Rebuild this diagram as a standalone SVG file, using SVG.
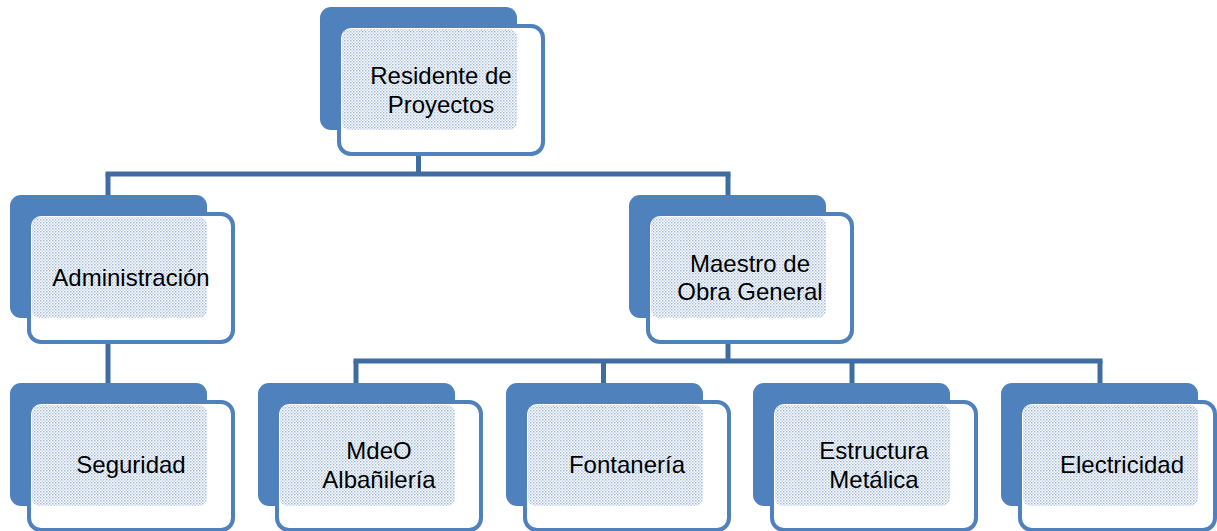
<svg xmlns="http://www.w3.org/2000/svg" width="1217" height="531" viewBox="0 0 1217 531">
<style>
.shadow{fill:#4F81BD}
.front{fill:#FFFFFF;stroke:#4F81BD;stroke-width:4}
.tex{fill:url(#dots)}
.lbl{font-family:"Liberation Sans",Arial,sans-serif;font-size:24px;fill:#000;text-anchor:middle}
.conn{stroke:#3E6CA3;stroke-width:5;fill:none}
.faint{stroke:#A9C0DE;stroke-width:2;stroke-dasharray:2 2;fill:none}
</style>
<defs>
<pattern id="dots" width="3" height="3" patternUnits="userSpaceOnUse">
<rect width="3" height="3" fill="#FFFFFF"/>
<rect x="0" y="0" width="1.5" height="1.5" fill="#A3BCDD"/>
<rect x="1.5" y="1.5" width="1.5" height="1.5" fill="#C4D5EB"/>
</pattern>
<g id="shape">
<rect class="shadow" x="0" y="0" width="197" height="123" rx="11"/>
<rect class="front" x="19" y="19" width="204" height="128" rx="12"/>
<rect class="tex" x="22" y="22" width="175" height="101" rx="8"/>
</g>
</defs>
<g id="connectors">
<line class="conn" x1="418.5" y1="155" x2="418.5" y2="174"/>
<line class="conn" x1="105.5" y1="174" x2="730.5" y2="174"/>
<line class="conn" x1="108" y1="174" x2="108" y2="196"/>
<line class="conn" x1="728" y1="174" x2="728" y2="196"/>
<line class="conn" x1="108" y1="341" x2="108" y2="384"/>
<line class="conn" x1="728" y1="341" x2="728" y2="361"/>
<line class="conn" x1="353.5" y1="361" x2="1102.5" y2="361"/>
<line class="conn" x1="356" y1="361" x2="356" y2="384"/>
<line class="conn" x1="603.5" y1="361" x2="603.5" y2="384"/>
<line class="conn" x1="852" y1="361" x2="852" y2="384"/>
<line class="conn" x1="1100" y1="361" x2="1100" y2="384"/>
<line class="faint" x1="418.5" y1="135" x2="418.5" y2="154"/>
<line class="faint" x1="108" y1="323" x2="108" y2="340"/>
<line class="faint" x1="728" y1="323" x2="728" y2="340"/>
</g>
<g id="residente" transform="translate(320,7)">
<use href="#shape"/>
<text class="lbl" x="121" y="77">Residente de</text>
<text class="lbl" x="121" y="106">Proyectos</text>
</g>
<g id="administracion" transform="translate(10,195)">
<use href="#shape"/>
<text class="lbl" x="121" y="91">Administración</text>
</g>
<g id="maestro" transform="translate(629,195)">
<use href="#shape"/>
<text class="lbl" x="121" y="77">Maestro de</text>
<text class="lbl" x="121" y="105">Obra General</text>
</g>
<g id="seguridad" transform="translate(10,383)">
<use href="#shape"/>
<text class="lbl" x="121" y="90">Seguridad</text>
</g>
<g id="mdeo" transform="translate(258,383)">
<use href="#shape"/>
<text class="lbl" x="121" y="76">MdeO</text>
<text class="lbl" x="121" y="105">Albañilería</text>
</g>
<g id="fontaneria" transform="translate(506,383)">
<use href="#shape"/>
<text class="lbl" x="121" y="90">Fontanería</text>
</g>
<g id="estructura" transform="translate(753,383)">
<use href="#shape"/>
<text class="lbl" x="121" y="76">Estructura</text>
<text class="lbl" x="121" y="105">Metálica</text>
</g>
<g id="electricidad" transform="translate(1001,383)">
<rect class="shadow" x="0" y="0" width="197" height="123" rx="11"/>
<rect class="front" x="19" y="19" width="195" height="128" rx="12"/>
<rect class="tex" x="22" y="22" width="175" height="101" rx="8"/>
<text class="lbl" x="121" y="90">Electricidad</text>
</g>
</svg>
